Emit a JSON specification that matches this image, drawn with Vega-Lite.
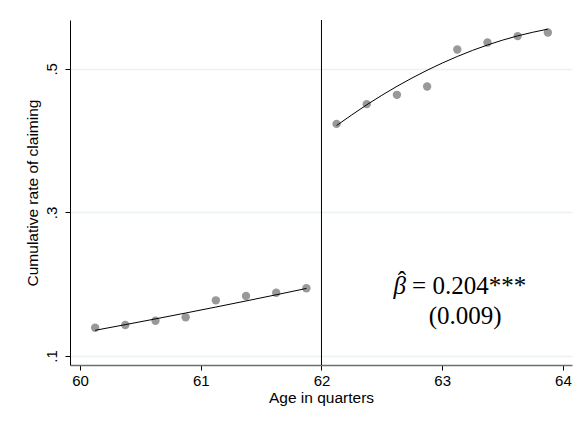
{
  "$schema": "https://vega.github.io/schema/vega-lite/v6.json",
  "width": 502,
  "height": 345,
  "autosize": "none",
  "padding": {"left": 70, "top": 20, "right": 11, "bottom": 59},
  "background": "white",
  "config": {
    "view": {"stroke": null},
    "font": "Liberation Sans"
  },
  "datasets": {
    "bins": [
      {"age": 60.125, "rate": 0.1394, "side": "before"},
      {"age": 60.375, "rate": 0.1432, "side": "before"},
      {"age": 60.625, "rate": 0.1492, "side": "before"},
      {"age": 60.875, "rate": 0.1539, "side": "before"},
      {"age": 61.125, "rate": 0.1776, "side": "before"},
      {"age": 61.375, "rate": 0.1836, "side": "before"},
      {"age": 61.625, "rate": 0.1882, "side": "before"},
      {"age": 61.875, "rate": 0.1944, "side": "before"},
      {"age": 62.125, "rate": 0.4233, "side": "after"},
      {"age": 62.375, "rate": 0.4508, "side": "after"},
      {"age": 62.625, "rate": 0.4638, "side": "after"},
      {"age": 62.875, "rate": 0.4754, "side": "after"},
      {"age": 63.125, "rate": 0.5269, "side": "after"},
      {"age": 63.375, "rate": 0.5367, "side": "after"},
      {"age": 63.625, "rate": 0.5456, "side": "after"},
      {"age": 63.875, "rate": 0.5506, "side": "after"}
    ],
    "fit": [
      {"age": 60.125, "fitted": 0.1358, "side": "before"},
      {"age": 60.375, "fitted": 0.1437, "side": "before"},
      {"age": 60.625, "fitted": 0.1517, "side": "before"},
      {"age": 60.875, "fitted": 0.1599, "side": "before"},
      {"age": 61.125, "fitted": 0.1682, "side": "before"},
      {"age": 61.375, "fitted": 0.1767, "side": "before"},
      {"age": 61.625, "fitted": 0.1853, "side": "before"},
      {"age": 61.875, "fitted": 0.1941, "side": "before"},
      {"age": 62.125, "fitted": 0.4210, "side": "after"},
      {"age": 62.375, "fitted": 0.4499, "side": "after"},
      {"age": 62.625, "fitted": 0.4756, "side": "after"},
      {"age": 62.875, "fitted": 0.4980, "side": "after"},
      {"age": 63.125, "fitted": 0.5172, "side": "after"},
      {"age": 63.375, "fitted": 0.5332, "side": "after"},
      {"age": 63.625, "fitted": 0.5459, "side": "after"},
      {"age": 63.875, "fitted": 0.5553, "side": "after"}
    ]
  },
  "layer": [
    {
      "data": {"values": [{"cutoff": 62}]},
      "mark": {"type": "rule", "color": "black", "strokeWidth": 1},
      "encoding": {
        "x": {"field": "cutoff", "type": "quantitative"}
      }
    },
    {
      "data": {"name": "bins"},
      "mark": {"type": "circle", "size": 70, "color": "#999999", "opacity": 1},
      "encoding": {
        "x": {
          "field": "age",
          "type": "quantitative",
          "scale": {"domain": [59.917, 64.075], "nice": false, "zero": false},
          "axis": {
            "title": "Age in quarters",
            "titleFontSize": 15.5,
            "titleFontWeight": "normal",
            "titleColor": "black",
            "titlePadding": 2,
            "values": [60, 61, 62, 63, 64],
            "format": "d",
            "labelFontSize": 15,
            "labelColor": "black",
            "labelPadding": 3,
            "tickColor": "black",
            "tickSize": 5,
            "domainColor": "#6e6e6e",
            "domainWidth": 1.5,
            "grid": false
          }
        },
        "y": {
          "field": "rate",
          "type": "quantitative",
          "scale": {"domain": [0.0875, 0.568], "nice": false, "zero": false},
          "axis": {
            "title": "Cumulative rate of claiming",
            "titleFontSize": 15.5,
            "titleFontWeight": "normal",
            "titleColor": "black",
            "titlePadding": 4,
            "values": [0.1, 0.3, 0.5],
            "labelExpr": "replace(format(datum.value, '.1f'), '0.', '.')",
            "labelAngle": -90,
            "labelAlign": "center",
            "labelBaseline": "bottom",
            "labelFontSize": 15,
            "labelColor": "black",
            "labelPadding": 6,
            "tickColor": "black",
            "tickSize": 5,
            "domainColor": "black",
            "domainWidth": 1,
            "grid": true,
            "gridColor": "#eaf2f3",
            "gridWidth": 1.5
          }
        }
      }
    },
    {
      "data": {"name": "fit"},
      "mark": {"type": "line", "color": "black", "strokeWidth": 1, "interpolate": "monotone"},
      "encoding": {
        "x": {"field": "age", "type": "quantitative"},
        "y": {"field": "fitted", "type": "quantitative"},
        "detail": {"field": "side"}
      }
    },
    {
      "data": {"values": [{"age": 62.70, "rate": 0.186, "label": "β"}]},
      "mark": {"type": "text", "font": "Liberation Serif", "fontSize": 25, "fontStyle": "italic", "align": "right", "baseline": "alphabetic", "color": "black"},
      "encoding": {
        "x": {"field": "age", "type": "quantitative"},
        "y": {"field": "rate", "type": "quantitative"},
        "text": {"field": "label"}
      }
    },
    {
      "data": {"values": [{"age": 62.70, "rate": 0.186, "label": "ˆ"}]},
      "mark": {"type": "text", "font": "Liberation Serif", "fontSize": 25, "align": "right", "baseline": "alphabetic", "dx": 0, "dy": -5, "color": "black"},
      "encoding": {
        "x": {"field": "age", "type": "quantitative"},
        "y": {"field": "rate", "type": "quantitative"},
        "text": {"field": "label"}
      }
    },
    {
      "data": {"values": [{"age": 62.75, "rate": 0.186, "label": "= 0.204***"}]},
      "mark": {"type": "text", "font": "Liberation Serif", "fontSize": 25, "align": "left", "baseline": "alphabetic", "color": "black"},
      "encoding": {
        "x": {"field": "age", "type": "quantitative"},
        "y": {"field": "rate", "type": "quantitative"},
        "text": {"field": "label"}
      }
    },
    {
      "data": {"values": [{"age": 63.19, "rate": 0.144, "label": "(0.009)"}]},
      "mark": {"type": "text", "font": "Liberation Serif", "fontSize": 25, "align": "center", "baseline": "alphabetic", "color": "black"},
      "encoding": {
        "x": {"field": "age", "type": "quantitative"},
        "y": {"field": "rate", "type": "quantitative"},
        "text": {"field": "label"}
      }
    }
  ]
}
